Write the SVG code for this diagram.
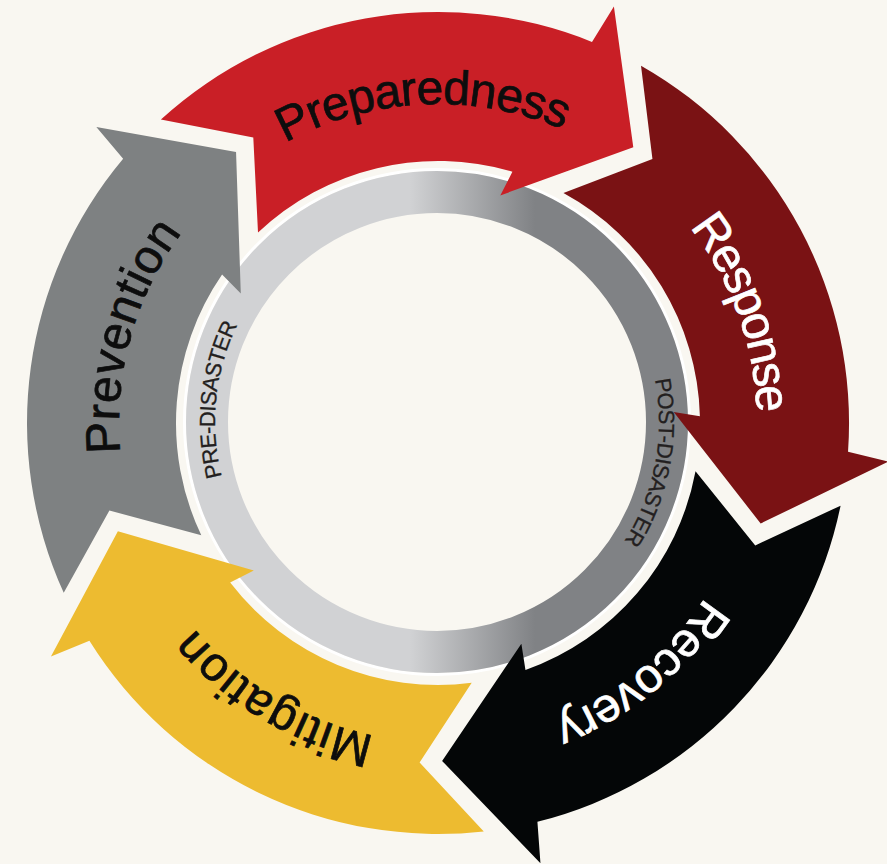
<svg xmlns="http://www.w3.org/2000/svg" xmlns:xlink="http://www.w3.org/1999/xlink" width="887" height="864" viewBox="0 0 887 864">
<style>
.lbl{font-family:"Liberation Sans",Arial,Helvetica,sans-serif;font-size:48px;text-anchor:middle;stroke-width:0.7px}
.ink{fill:#0d0d0d;stroke:#0d0d0d}
.paper{fill:#ffffff;stroke:#ffffff}
.ringtxt{font-family:"Liberation Sans",Arial,Helvetica,sans-serif;font-size:22px;fill:#231f20;stroke:#231f20;stroke-width:0.3px;text-anchor:middle;letter-spacing:-0.6px}
</style>
<defs>
<linearGradient id="ringGrad" gradientUnits="userSpaceOnUse" x1="410" y1="0" x2="535" y2="0">
<stop offset="0" stop-color="#d1d2d4"/>
<stop offset="1" stop-color="#808285"/>
</linearGradient>
<path id="arrowShape" d="M160.9,119.5 L253.3,137.5 L258.0,232.6 A262,262 0 0 1 512.4,171.8 L500.3,195.4 L633.3,147.2 L613.9,6.6 L592.0,41.9 A411,411 0 0 0 160.9,119.5 Z"/>
<path id="labelPath" d="M438,742 A319,319 0 1 1 438,104 A319,319 0 1 1 438,742"/>
<path id="ringPath" d="M437,644 A222,222 0 1 1 437,200 A222,222 0 1 1 437,644"/>
</defs>
<rect x="0" y="0" width="887" height="864" fill="#f9f7f1"/>
<g id="phase-ring">
<circle cx="437" cy="422" r="252.5" fill="none" stroke="#ffffff" stroke-width="3"/>
<circle cx="437" cy="422" r="230" fill="none" stroke="url(#ringGrad)" stroke-width="42"/>
<text class="ringtxt"><textPath xlink:href="#ringPath" href="#ringPath" startOffset="371">PRE-DISASTER</textPath></text>
<text class="ringtxt"><textPath xlink:href="#ringPath" href="#ringPath" startOffset="1087">POST-DISASTER</textPath></text>
</g>
<g id="connectors"></g>
<g id="preparedness">
<use xlink:href="#arrowShape" href="#arrowShape" fill="#c91f26"/>
<text class="lbl ink" letter-spacing="-1"><textPath xlink:href="#labelPath" href="#labelPath" startOffset="986">Preparedness</textPath></text>
</g>
<g id="response">
<use xlink:href="#arrowShape" href="#arrowShape" transform="rotate(72 438 423)" fill="#7a1214"/>
<text class="lbl paper" letter-spacing="-2.2"><textPath xlink:href="#labelPath" href="#labelPath" startOffset="1391">Response</textPath></text>
</g>
<g id="recovery">
<use xlink:href="#arrowShape" href="#arrowShape" transform="rotate(144 438 423)" fill="#040607"/>
<text class="lbl paper" letter-spacing="-0.6"><textPath xlink:href="#labelPath" href="#labelPath" startOffset="1786">Recovery</textPath></text>
</g>
<g id="mitigation">
<use xlink:href="#arrowShape" href="#arrowShape" transform="rotate(216 438 423)" fill="#edbb30"/>
<text class="lbl ink" letter-spacing="0.9"><textPath xlink:href="#labelPath" href="#labelPath" startOffset="171">Mitigation</textPath></text>
</g>
<g id="prevention">
<use xlink:href="#arrowShape" href="#arrowShape" transform="rotate(288 438 423)" fill="#7e8182"/>
<text class="lbl ink" letter-spacing="0.5"><textPath xlink:href="#labelPath" href="#labelPath" startOffset="588">Prevention</textPath></text>
</g>
</svg>
